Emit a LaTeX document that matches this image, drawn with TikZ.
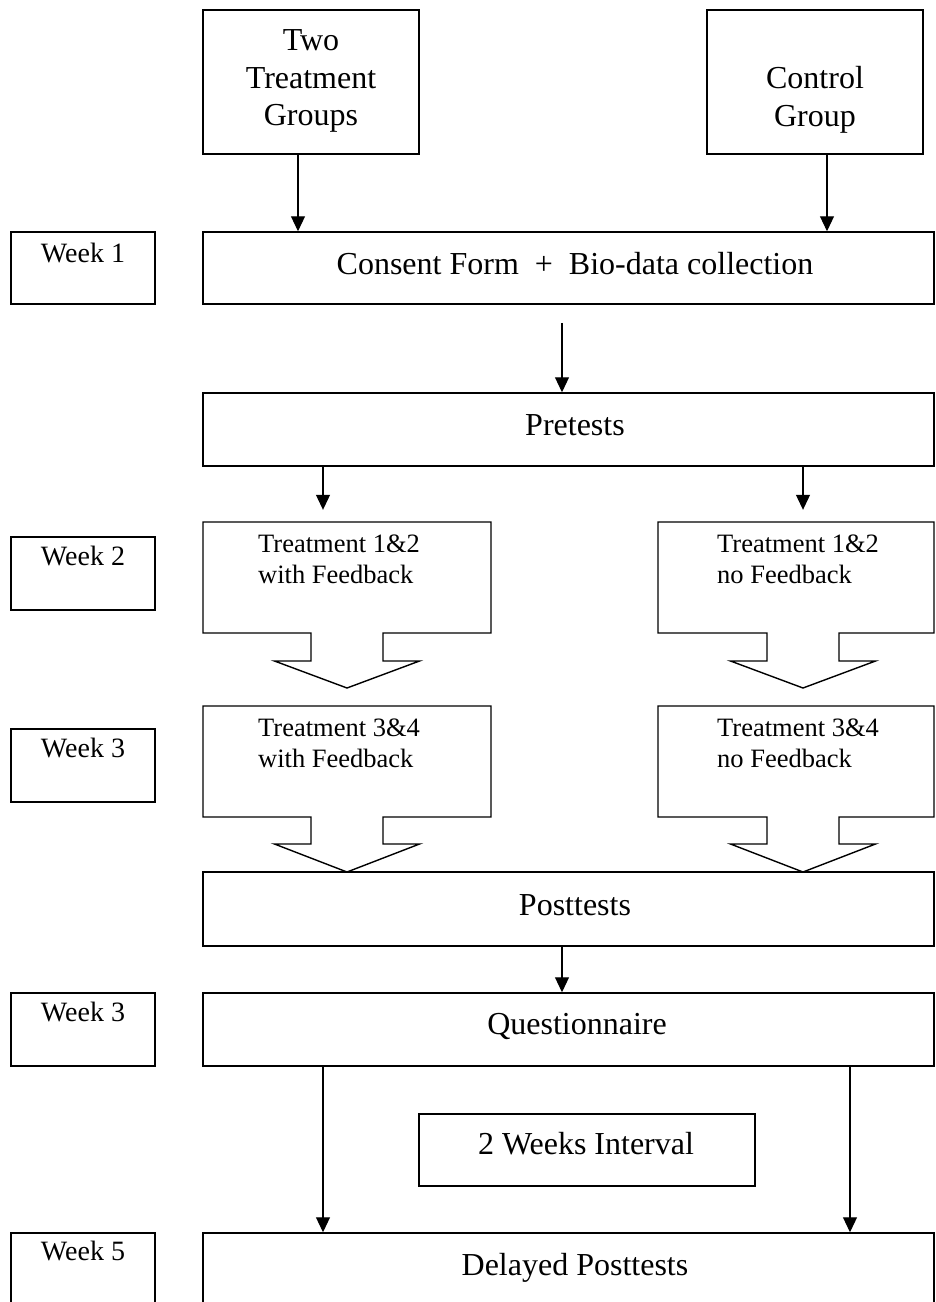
\documentclass[tikz,border=0pt]{standalone}
\usepackage{fontspec}
\setmainfont{Liberation Serif}
\usetikzlibrary{arrows.meta,calc}
\newcommand\mycallout[7]{%
  \draw[callout] (#1,#3) -- (#2,#3) -- (#2,#4) -- ({#5+36},#4) -- ({#5+36},#6)
    -- ({#5+72.5},#6) -- (#5,#7) -- ({#5-72.5},#6) -- ({#5-36},#6)
    -- ({#5-36},#4) -- (#1,#4) -- cycle;}
\begin{document}
\begin{tikzpicture}[x=1pt,y=-1pt,
  box/.style={draw, line width=1.5pt, inner sep=0pt},
  hid/.style={inner sep=0pt},
  callout/.style={draw, line width=1.4pt, line join=miter},
  arr/.style={line width=1.1pt, -{Triangle[length=15pt,width=14pt]}},
  big/.style={font=\fontsize{32}{37.5}\selectfont, inner sep=0pt},
  wk/.style={font=\fontsize{28}{32}\selectfont, inner sep=0pt, anchor=base},
  tr/.style={font=\fontsize{26.5}{31}\selectfont, inner sep=0pt, anchor=north west, align=left}]
\clip (0,0) rectangle (935,1302);
\fill[white] (0,0) rectangle (935,1302);

% top groups
\node[box, minimum width=216pt, minimum height=144pt] (two) at (311,82) {};
\node[big, align=center] (twot) at (311,81) {Two\\Treatment\\Groups};
\node[box, minimum width=216pt, minimum height=144pt] (ctrl) at (815,82) {};
\node[big, align=center] (ctrlt) at (815,100) {Control\\Group};

% week 1 / consent
\node[box, minimum width=144pt, minimum height=72pt] (wk1) at (83,268) {};
\node[wk] (wk1t) at (83,262) {Week 1};
\node[box, minimum width=731pt, minimum height=72pt] (consent) at (568.5,268) {};
\node[big, anchor=base] (consentt) at (575,274) {Consent Form\ \ +\ \ Bio-data collection};

% pretests
\node[box, minimum width=731pt, minimum height=73pt] (pre) at (568.5,429.5) {};
\node[big, anchor=base] (pret) at (575,435) {Pretests};

% week 2 / treatments 1&2
\node[box, minimum width=144pt, minimum height=73pt] (wk2) at (83,573.5) {};
\node[wk] (wk2t) at (83,565) {Week 2};
\node[hid, minimum width=288pt, minimum height=111pt] (c1) at (347,577.5) {};
\mycallout{203}{491}{522}{633}{347}{661}{688}
\node[tr] (c1t) at (258,535) {Treatment 1\&2\\with Feedback};
\node[hid, minimum width=276pt, minimum height=111pt] (c2) at (796,577.5) {};
\mycallout{658}{934}{522}{633}{803}{661}{688}
\node[tr] (c2t) at (717,535) {Treatment 1\&2\\no Feedback};

% week 3 / treatments 3&4
\node[box, minimum width=144pt, minimum height=73pt] (wk3a) at (83,765.5) {};
\node[wk] (wk3at) at (83,757) {Week 3};
\node[hid, minimum width=288pt, minimum height=111pt] (c3) at (347,761.5) {};
\mycallout{203}{491}{706}{817}{347}{844}{872}
\node[tr] (c3t) at (258,719) {Treatment 3\&4\\with Feedback};
\node[hid, minimum width=276pt, minimum height=111pt] (c4) at (796,761.5) {};
\mycallout{658}{934}{706}{817}{803}{844}{872}
\node[tr] (c4t) at (717,719) {Treatment 3\&4\\no Feedback};

% posttests
\node[box, minimum width=731pt, minimum height=74pt] (post) at (568.5,909) {};
\node[big, anchor=base] (postt) at (575,915) {Posttests};

% week 3 / questionnaire
\node[box, minimum width=144pt, minimum height=73pt] (wk3b) at (83,1029.5) {};
\node[wk] (wk3bt) at (83,1021) {Week 3};
\node[box, minimum width=731pt, minimum height=73pt] (quest) at (568.5,1029.5) {};
\node[big, anchor=base] (questt) at (577,1034) {Questionnaire};

% interval
\node[box, minimum width=336pt, minimum height=72pt] (intv) at (587,1150) {};
\node[big, anchor=base] (intvt) at (586,1154) {2 Weeks Interval};

% week 5 / delayed
\node[box, minimum width=144pt, minimum height=77pt] (wk5) at (83,1271.5) {};
\node[wk] (wk5t) at (83,1260) {Week 5};
\node[box, minimum width=731pt, minimum height=77pt] (del) at (568.5,1271.5) {};
\node[big, anchor=base] (delt) at (575,1275) {Delayed Posttests};

% connectors
\draw[arr] (two.south -| 298,0) -- (consent.north -| 298,0);
\draw[arr] (ctrl.south -| 827,0) -- (consent.north -| 827,0);
\coordinate (cgap) at ($(consent.south)+(0,18)$);
\draw[arr] (cgap -| 562,0) -- (pre.north -| 562,0);
\coordinate (c1top) at ($(c1.north)+(0,-12)$);
\draw[arr] (pre.south -| 323,0) -- (c1top -| 323,0);
\draw[arr] (pre.south -| 803,0) -- (c1top -| 803,0);
\draw[arr] (post.south -| 562,0) -- (quest.north -| 562,0);
\draw[arr] (quest.south -| 323,0) -- (del.north -| 323,0);
\draw[arr] (quest.south -| 850,0) -- (del.north -| 850,0);
\end{tikzpicture}
\end{document}
